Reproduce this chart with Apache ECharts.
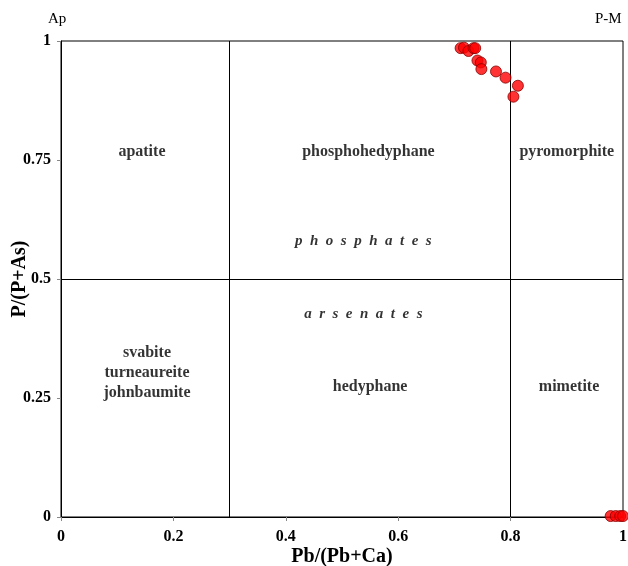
<!DOCTYPE html>
<html>
<head>
<meta charset="utf-8">
<script src="https://cdn.jsdelivr.net/npm/echarts@6/dist/echarts.min.js"></script>
<style>
html,body{margin:0;padding:0;background:#fff;}
#chart{width:628px;height:566px;}
</style>
</head>
<body>
<div id="chart"></div>
<script>
// 样品点 Pb/(Pb+Ca) 与 P/(P+As)
var samplePoints = [
  [0.711, 0.985], [0.717, 0.986], [0.725, 0.979], [0.734, 0.985], [0.737, 0.985],
  [0.741, 0.959], [0.747, 0.955], [0.748, 0.941], [0.774, 0.936], [0.791, 0.923],
  [0.813, 0.906], [0.805, 0.883],
  [0.978, 0.002], [0.987, 0.002], [0.995, 0.002], [1.0, 0.002]
];
// 分区界线
var xBounds = [0.3, 0.8];
var yBounds = [0.5];
// 分区名称 [x, y, 文字]
var regionLabels = [
  [0.144, 0.767, 'apatite'],
  [0.547, 0.767, 'phosphohedyphane'],
  [0.900, 0.767, 'pyromorphite'],
  [0.153, 0.303, 'svabite\nturneaureite\njohnbaumite'],
  [0.550, 0.273, 'hedyphane'],
  [0.904, 0.273, 'mimetite']
];
var groupLabels = [
  [0.538, 0.580, 'p  h  o  s  p  h  a  t  e  s'],
  [0.538, 0.426, 'a  r  s  e  n  a  t  e  s']
];

var myChart = echarts.init(document.getElementById('chart'));
var serif = '"Liberation Serif", "DejaVu Serif", serif';

var option = {
  backgroundColor: '#fff',
  animation: false,
  grid: {
    left: 61, right: 5, top: 41, bottom: 49,
    containLabel: false,
    outerBoundsMode: 'none',
    show: true,
    borderColor: '#000',
    borderWidth: 1
  },
  xAxis: {
    type: 'value',
    min: 0, max: 1, interval: 0.2,
    name: 'Pb/(Pb+Ca)',
    nameLocation: 'middle',
    nameMoveOverlap: false,
    nameGap: 30,
    nameTextStyle: {fontFamily: serif, fontWeight: 'bold', fontSize: 20, color: '#000'},
    axisLine: {show: true, lineStyle: {color: '#000'}},
    axisTick: {show: true, length: 4, lineStyle: {color: '#888'}},
    axisLabel: {fontFamily: serif, fontWeight: 'bold', fontSize: 16, color: '#000', margin: 12},
    splitLine: {show: false}
  },
  yAxis: {
    type: 'value',
    min: 0, max: 1, interval: 0.25,
    name: 'P/(P+As)',
    nameLocation: 'middle',
    nameMoveOverlap: false,
    nameGap: 31,
    nameTextStyle: {fontFamily: serif, fontWeight: 'bold', fontSize: 20, color: '#000'},
    axisLine: {show: true, lineStyle: {color: '#000'}},
    axisTick: {show: true, length: 4, lineStyle: {color: '#888'}},
    axisLabel: {fontFamily: serif, fontWeight: 'bold', fontSize: 16, color: '#000', margin: 10},
    splitLine: {show: false}
  },
  graphic: [
    {type: 'text', left: 48, top: 12, style: {text: 'Ap', font: '15px ' + serif, fill: '#000'}},
    {type: 'text', left: 595, top: 12, style: {text: 'P-M', font: '15px ' + serif, fill: '#000'}}
  ],
  series: [
    {
      name: 'bounds',
      type: 'line',
      data: [],
      silent: true,
      markLine: {
        symbol: 'none',
        silent: true,
        label: {show: false},
        lineStyle: {color: '#000', width: 1, type: 'solid'},
        data: xBounds.map(function (v) { return {xAxis: v}; })
          .concat(yBounds.map(function (v) { return {yAxis: v}; }))
      }
    },
    {
      name: 'regions',
      type: 'scatter',
      symbolSize: 0,
      silent: true,
      data: regionLabels,
      label: {
        show: true,
        position: 'inside',
        formatter: function (p) { return p.data[2]; },
        fontFamily: serif, fontWeight: 'bold', fontSize: 16, color: '#000',
        lineHeight: 20, align: 'center', verticalAlign: 'middle'
      }
    },
    {
      name: 'groups',
      type: 'scatter',
      symbolSize: 0,
      silent: true,
      data: groupLabels,
      label: {
        show: true,
        position: 'inside',
        formatter: function (p) { return p.data[2]; },
        fontFamily: serif, fontWeight: 'bold', fontStyle: 'italic', fontSize: 15, color: '#000',
        align: 'center', verticalAlign: 'middle'
      }
    },
    {
      name: 'samples',
      type: 'scatter',
      symbol: 'circle',
      symbolSize: 11,
      data: samplePoints,
      z: 5,
      itemStyle: {color: '#ff0000', borderColor: '#8b0000', borderWidth: 1}
    }
  ]
};
myChart.setOption(option, true);
window.addEventListener('resize', function () { myChart.resize(); });
</script>
</body>
</html>
